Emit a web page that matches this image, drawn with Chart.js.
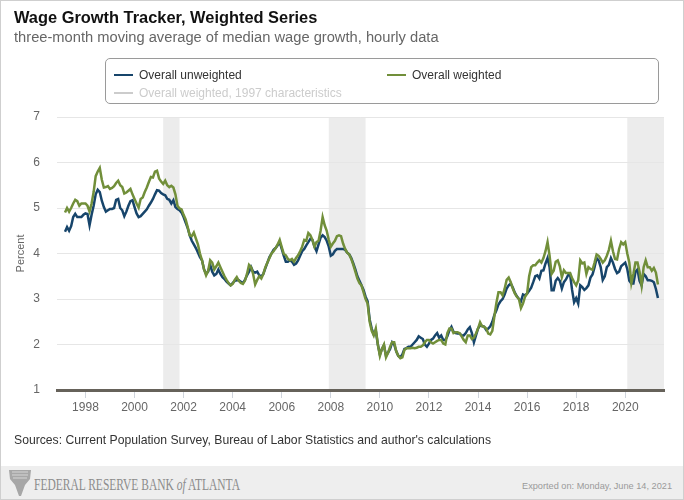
<!DOCTYPE html>
<html><head><meta charset="utf-8">
<script src="https://cdn.jsdelivr.net/npm/chart.js@4/dist/chart.umd.min.js"></script>
<style>
html,body{margin:0;padding:0;background:#fff;}
#wrap{position:relative;width:684px;height:500px;overflow:hidden;font-family:"Liberation Sans",Arial,Helvetica,sans-serif;background:#fff}
#frame{position:absolute;left:0;top:0;width:684px;height:500px;box-sizing:border-box;border:1px solid #cfcfcf;pointer-events:none;z-index:5}
#c{position:absolute;left:0;top:0;}
#title{position:absolute;left:14px;top:8px;font-size:16.4px;font-weight:bold;color:#111;white-space:nowrap}
#subtitle{position:absolute;left:14px;top:29px;font-size:14.7px;color:#666;white-space:nowrap}
#legend{position:absolute;left:105px;top:58px;width:554px;height:46px;box-sizing:border-box;border:1px solid #9a9a9a;border-radius:5px;}
.li{position:absolute;font-size:12px;color:#333;white-space:nowrap;line-height:14px}
.li .mk{position:absolute;left:0;top:6px;width:19px;height:2px}
.li .tx{position:absolute;left:25px;top:0}
#sources{position:absolute;left:14px;top:433px;font-size:12.2px;color:#333;white-space:nowrap}
#footer{position:absolute;left:0;top:466px;width:684px;height:34px;background:#eeeeee}
#frb{position:absolute;left:34px;top:476px;font-family:"Liberation Serif","Times New Roman",serif;font-size:16px;color:#8c8c8c;white-space:nowrap;transform-origin:0 0}
#frb i{font-style:italic}
#exported{position:absolute;right:12px;top:481px;font-size:9.2px;color:#9a9a9a;white-space:nowrap}
#logo{position:absolute;left:8px;top:469px}
</style></head>
<body>
<div id="wrap">
  <canvas id="c" width="684" height="500"></canvas>
  <div id="title">Wage Growth Tracker, Weighted Series</div>
  <div id="subtitle">three-month moving average of median wage growth, hourly data</div>
  <div id="legend"></div>
  <div id="sources">Sources: Current Population Survey, Bureau of Labor Statistics and author's calculations</div>
  <div id="footer"></div>
  <svg id="logo" width="24" height="28" viewBox="0 0 24 28"><path d="M1 1 L23 1 L22 10 L17 16 L13 27 L11 27 L7 16 L2 10 Z" fill="#a7a7a7"/><path d="M4 3 L20 3 M4 6 L20 6 M5 9 L19 9" stroke="#d6d6d6" stroke-width="1"/></svg>
  <div id="frb">FEDERAL RESERVE BANK <i>of</i> ATLANTA</div>
  <div id="exported">Exported on: Monday, June 14, 2021</div>
  <div id="frame"></div>
</div>
<script>
// ---- Data (monthly, three-month moving average, percent) ----
const startYear = 1997;
const startMonth = 3; // March 1997

const unweighted = [
 4.48,4.58,4.50,4.60,4.80,4.87,4.80,4.80,4.80,4.85,
 4.88,4.87,4.62,4.85,5.05,5.30,5.40,5.35,5.16,5.02,
 4.92,4.95,4.98,4.98,5.00,5.18,5.20,5.00,4.95,4.82,
 4.92,5.05,5.15,5.17,5.02,4.88,4.80,4.82,4.87,4.92,
 4.97,5.05,5.12,5.20,5.30,5.39,5.38,5.33,5.30,5.28,
 5.20,5.18,5.10,5.17,5.02,4.98,4.95,4.90,4.80,4.68,
 4.56,4.40,4.28,4.20,4.12,4.02,3.92,3.85,3.65,3.55,
 3.60,3.75,3.60,3.52,3.55,3.65,3.55,3.48,3.44,3.38,
 3.34,3.30,3.35,3.40,3.41,3.41,3.38,3.35,3.42,3.52,
 3.60,3.70,3.60,3.58,3.60,3.52,3.50,3.55,3.68,3.80,
 3.92,4.00,4.08,4.12,4.18,4.25,4.10,3.95,3.82,3.82,
 3.85,3.82,3.75,3.78,3.85,3.95,4.05,4.10,4.18,4.25,
 4.32,4.30,4.15,4.05,4.20,4.35,4.40,4.36,4.28,4.15,
 3.95,3.98,4.06,4.10,4.10,4.10,4.10,4.08,4.02,3.98,
 3.90,3.78,3.65,3.50,3.40,3.30,3.20,3.05,2.95,2.55,
 2.35,2.22,2.30,2.00,1.78,1.90,1.98,1.75,1.82,1.90,
 2.05,2.00,1.85,1.75,1.72,1.78,1.90,1.92,1.95,1.95,
 2.00,2.05,2.10,2.18,2.15,2.12,2.00,1.95,2.02,2.10,
 2.13,2.20,2.25,2.15,2.20,2.10,2.10,2.18,2.31,2.39,
 2.28,2.25,2.24,2.24,2.20,2.20,2.25,2.33,2.38,2.25,
 2.05,2.20,2.35,2.42,2.41,2.39,2.32,2.35,2.40,2.50,
 2.65,2.75,2.88,2.95,3.00,3.10,3.23,3.30,3.34,3.25,
 3.14,3.06,3.00,2.95,3.10,3.08,3.12,3.18,3.25,3.37,
 3.50,3.52,3.45,3.62,3.63,3.78,3.90,3.70,3.19,3.19,
 3.40,3.46,3.40,3.23,3.37,3.43,3.52,3.55,3.20,2.93,
 3.02,2.90,3.30,3.26,3.20,3.24,3.30,3.47,3.54,3.70,
 3.90,3.85,3.70,3.42,3.50,3.70,3.75,3.90,3.80,3.66,
 3.57,3.60,3.72,3.76,3.80,3.66,3.40,3.34,3.34,3.60,
 3.65,3.40,3.30,3.55,3.50,3.41,3.41,3.40,3.37,3.22,3.02
];

const weighted = [
 4.90,5.00,4.92,5.00,5.10,5.18,5.15,5.05,5.10,5.10,
 5.10,5.05,4.92,5.10,5.35,5.70,5.80,5.88,5.62,5.45,
 5.46,5.48,5.42,5.44,5.48,5.55,5.60,5.50,5.46,5.32,
 5.34,5.38,5.42,5.30,5.20,5.10,5.01,5.20,5.23,5.35,
 5.45,5.57,5.68,5.67,5.80,5.82,5.65,5.58,5.53,5.60,
 5.50,5.46,5.49,5.45,5.30,5.05,4.99,4.97,4.85,4.75,
 4.58,4.40,4.38,4.46,4.33,4.20,4.00,3.85,3.65,3.52,
 3.62,3.85,3.80,3.65,3.72,3.80,3.70,3.60,3.50,3.42,
 3.35,3.30,3.33,3.42,3.48,3.40,3.35,3.33,3.40,3.55,
 3.75,3.70,3.55,3.32,3.42,3.50,3.45,3.55,3.70,3.80,
 3.90,4.00,4.05,4.12,4.20,4.30,4.14,3.99,3.96,3.88,
 3.85,3.88,3.82,3.90,3.96,4.05,4.15,4.30,4.28,4.45,
 4.40,4.30,4.15,4.25,4.28,4.50,4.80,4.62,4.50,4.30,
 4.15,4.22,4.28,4.38,4.40,4.38,4.22,4.10,4.02,3.98,
 3.88,3.75,3.60,3.45,3.35,3.30,3.15,3.00,2.90,2.50,
 2.30,2.20,2.35,2.00,1.75,1.90,2.00,1.72,1.82,1.95,
 2.05,2.05,1.85,1.75,1.70,1.72,1.88,1.92,1.92,1.92,
 1.93,1.92,1.93,1.95,1.95,1.98,2.05,2.10,2.10,2.05,
 2.02,2.05,2.08,2.10,2.10,2.02,2.00,2.25,2.35,2.35,
 2.25,2.27,2.27,2.25,2.18,2.10,2.05,2.20,2.20,2.12,
 2.15,2.24,2.35,2.49,2.40,2.39,2.35,2.24,2.22,2.30,
 2.62,2.92,3.15,3.15,3.08,3.22,3.42,3.47,3.37,3.23,
 3.12,3.05,3.00,2.80,2.90,3.05,3.12,3.50,3.70,3.74,
 3.74,3.80,3.85,3.80,3.90,4.05,4.25,3.95,3.55,3.62,
 3.82,3.85,3.72,3.48,3.63,3.57,3.57,3.57,3.46,3.37,
 3.30,3.41,3.85,3.78,3.80,3.55,3.70,3.66,3.64,3.80,
 3.98,3.95,3.88,3.80,3.85,3.95,4.08,4.28,4.05,3.88,
 3.87,4.10,4.25,4.20,4.25,4.00,3.80,3.35,3.55,3.80,
 3.80,3.60,3.30,3.70,3.85,3.70,3.70,3.62,3.68,3.58,3.32
];

// Recession periods (decimal years)
const recessionStarts = [2001.167, 2007.917, 2020.083];
const recessionEnds   = [2001.833, 2009.417, 2021.58];

const tickYears = [1998,2000,2002,2004,2006,2008,2010,2012,2014,2016,2018,2020];
const yTicks = [1,2,3,4,5,6,7];

const seriesNames  = ['Overall unweighted','Overall weighted','Overall weighted, 1997 characteristics'];
const seriesColors = ['#17456b','#718f3a','#cccccc'];
const seriesHidden = [false,false,true];

const xMin = 1996.84, xMax = 2021.58;

function toPoints(vals){
  return vals.map((v,i)=>({x: startYear + (startMonth-1+i)/12, y: v}));
}

// ---- Legend (HTML) ----
const legendPos = [[8,9],[281,9],[8,27]];
const leg = document.getElementById('legend');
seriesNames.forEach((n,i)=>{
  const d = document.createElement('div');
  d.className='li';
  d.style.left = legendPos[i][0]+'px';
  d.style.top = legendPos[i][1]+'px';
  d.style.color = seriesHidden[i] ? '#cccccc' : '#333333';
  d.innerHTML = '<span class="mk" style="background:'+(seriesHidden[i]?'#cccccc':seriesColors[i])+'"></span><span class="tx"></span>';
  d.querySelector('.tx').textContent = n;
  leg.appendChild(d);
});

// fit FRB text width
(function(){
  const el = document.getElementById('frb');
  const w = el.getBoundingClientRect().width;
  el.style.transform = 'scaleX(' + (206 / w) + ')';
})();

const shadePlugin = {
  id:'recessions',
  beforeDraw(chart){
    const {ctx, chartArea, scales:{x}} = chart;
    ctx.save();
    ctx.fillStyle = '#ececec';
    for (let k=0;k<recessionStarts.length;k++){
      const x0 = Math.max(chartArea.left, x.getPixelForValue(recessionStarts[k]));
      const x1 = Math.min(chartArea.right, x.getPixelForValue(recessionEnds[k]));
      ctx.fillRect(x0, chartArea.top, x1-x0, chartArea.bottom-chartArea.top);
    }
    ctx.restore();
  }
};

new Chart(document.getElementById('c'), {
  type:'line',
  data:{
    datasets:[
      {label:seriesNames[0], data:toPoints(unweighted), borderColor:seriesColors[0], borderWidth:2.5, pointRadius:0, tension:0, order:2},
      {label:seriesNames[1], data:toPoints(weighted), borderColor:seriesColors[1], borderWidth:2.5, pointRadius:0, tension:0, order:1}
    ]
  },
  options:{
    responsive:false,
    animation:false,
    events:[],
    layout:{padding:{left:0,top:117,right:20,bottom:0}},
    plugins:{legend:{display:false}, title:{display:false}, tooltip:{enabled:false}},
    scales:{
      x:{
        type:'linear', min:xMin, max:xMax,
        afterBuildTicks:(s)=>{ s.ticks = tickYears.map(v=>({value:v})); },
        afterFit:(s)=>{ s.height = 110; },
        grid:{drawOnChartArea:false, drawTicks:true, tickLength:8, color:'#cfd4dc', lineWidth:1},
        border:{display:true, color:'#66625a', width:3},
        ticks:{color:'#666', font:{family:'"Liberation Sans", Arial, sans-serif', size:12}, padding:2, maxRotation:0, autoSkip:false, callback:(v)=>String(v)}
      },
      y:{
        min:1, max:7,
        afterBuildTicks:(s)=>{ s.ticks = yTicks.map(v=>({value:v})); },
        afterFit:(s)=>{ s.width = 57; },
        grid:{color:'#e6e6e6', lineWidth:1, drawTicks:false},
        border:{display:false},
        ticks:{color:'#666', font:{family:'"Liberation Sans", Arial, sans-serif', size:12}, padding:17},
        title:{display:true, text:'Percent', color:'#666', font:{family:'"Liberation Sans", Arial, sans-serif', size:11}, padding:{top:14,bottom:0}}
      }
    }
  },
  plugins:[shadePlugin]
});
</script>
</body></html>
